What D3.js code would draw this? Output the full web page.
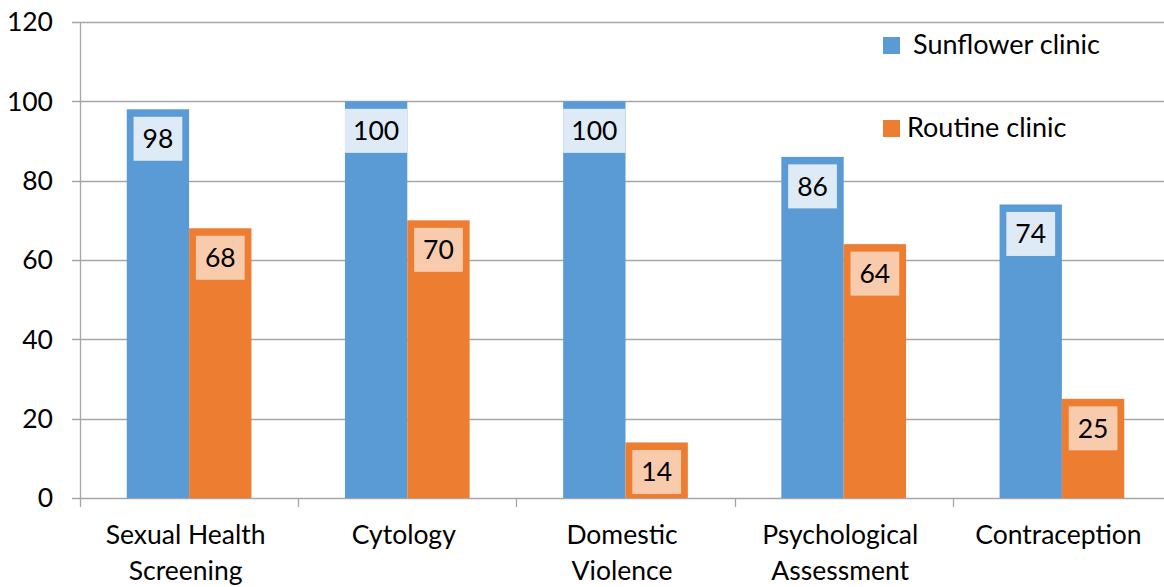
<!DOCTYPE html>
<meta charset="utf-8">
<script src="https://d3js.org/d3.v7.min.js"></script>
<style>
  body { margin: 0; background: #fff; }
  text { font-family: Lato, "Open Sans", sans-serif; fill: #000; }
</style>
<div id="chart"></div>
<script>

// data
var categories = [["Sexual Health", "Screening"], ["Cytology"], ["Domestic", "Violence"], ["Psychological", "Assessment"], ["Contraception"]];
var sunflower = [98, 100, 100, 86, 74];
var routine = [68, 70, 14, 64, 25];
var seriesNames = ["Sunflower clinic", "Routine clinic"];
var yTicks = [0, 20, 40, 60, 80, 100, 120];

var width = 1164, height = 587;
var margin = {top: 22, right: -7, bottom: 89, left: 80};
var innerW = width - margin.left - margin.right,
    innerH = height - margin.top - margin.bottom;

var colors = ["#5b9bd5", "#ed7d31"];
var labelFill = ["#deebf7", "#f8cbad"];
var fontSize = "26.5px";

var svg = d3.select("#chart")
  .append("svg")
    .attr("width", width)
    .attr("height", height)
  .append("g")
    .attr("transform", "translate(" + margin.left + "," + margin.top + ")");

var x = d3.scaleBand()
  .domain(d3.range(categories.length))
  .range([0, innerW]);

var x1 = d3.scaleBand()
  .domain([0, 1])
  .range([0, x.bandwidth()])
  .paddingOuter(0.75)   // ~47px each side, like excel gap width
  .paddingInner(0);

var y = d3.scaleLinear()
  .domain([0, 120])
  .range([innerH, 0]);

// gridlines
svg.append("g")
  .selectAll("line")
  .data(yTicks)
  .enter().append("line")
    .attr("x1", -8)
    .attr("x2", innerW)
    .attr("y1", function(d) { return Math.round(y(d)) + 0.5; })
    .attr("y2", function(d) { return Math.round(y(d)) + 0.5; })
    .attr("stroke", "#a6a6a6")
    .attr("stroke-width", 1.3);

// y axis labels
svg.append("g")
  .selectAll("text")
  .data(yTicks)
  .enter().append("text")
    .attr("x", -27)
    .attr("y", function(d) { return y(d); })
    .attr("dy", "0.35em")
    .attr("text-anchor", "end")
    .style("font-size", fontSize)
    .text(function(d) { return d; });

// y axis line
svg.append("line")
  .attr("x1", 0.5).attr("x2", 0.5)
  .attr("y1", 0).attr("y2", innerH)
  .attr("stroke", "#a6a6a6")
  .attr("stroke-width", 1.3);

// category ticks
svg.append("g")
  .selectAll("line")
  .data(d3.range(categories.length + 1))
  .enter().append("line")
    .attr("x1", function(d) { return Math.round(d * x.step()) + 0.5; })
    .attr("x2", function(d) { return Math.round(d * x.step()) + 0.5; })
    .attr("y1", innerH)
    .attr("y2", innerH + 9)
    .attr("stroke", "#a6a6a6")
    .attr("stroke-width", 1.3);

// category labels (excel sets them a little left of centre)
var cat = svg.append("g")
  .selectAll("text")
  .data(categories)
  .enter().append("text")
    .attr("text-anchor", "middle")
    .attr("transform", function(d, i) { return "translate(" + (x(i) + x.bandwidth() / 2 - 3.5) + "," + (innerH + 46) + ")"; })
    .style("font-size", fontSize);
cat.selectAll("tspan")
  .data(function(d) { return d; })
  .enter().append("tspan")
    .attr("x", 0)
    .attr("y", function(d, i) { return i * 36; })
    .text(function(d) { return d; });

// bars
var series = [sunflower, routine];
var groups = svg.append("g")
  .selectAll("g")
  .data(series)
  .enter().append("g");

groups.selectAll("rect")
  .data(function(d, s) { return d.map(function(v, i) { return {v: v, i: i, s: s}; }); })
  .enter().append("rect")
    .attr("x", function(d) { return x(d.i) + x1(d.s); })
    .attr("y", function(d) { return y(d.v); })
    .attr("width", x1.bandwidth())
    .attr("height", function(d) { return innerH - y(d.v); })
    .attr("fill", function(d) { return colors[d.s]; });

// data labels
var labels = svg.append("g")
  .selectAll("g")
  .data(series)
  .enter().append("g")
  .selectAll("g")
  .data(function(d, s) { return d.map(function(v, i) { return {v: v, i: i, s: s}; }); })
  .enter().append("g")
    .attr("transform", function(d) { return "translate(" + (x(d.i) + x1(d.s) + x1.bandwidth() / 2) + "," + (y(d.v) + 7.5) + ")"; });

labels.append("text")
  .attr("y", 22)
  .attr("dy", "0.35em")
  .attr("text-anchor", "middle")
  .style("font-size", fontSize)
  .text(function(d) { return d.v; })
  .each(function(d) { d.w = this.getComputedTextLength(); });

labels.insert("rect", "text")
  .attr("x", function(d) { return -Math.min(d.w + 18, x1.bandwidth()) / 2; })
  .attr("y", 0)
  .attr("width", function(d) { return Math.min(d.w + 18, x1.bandwidth()); })
  .attr("height", 44)
  .attr("fill", function(d) { return labelFill[d.s]; });

// legend
var legend = svg.append("g")
  .selectAll("g")
  .data(seriesNames)
  .enter().append("g")
    .attr("transform", function(d, i) { return "translate(" + (883 - margin.left) + "," + (37 - margin.top + i * 83) + ")"; });

legend.append("rect")
  .attr("width", 17)
  .attr("height", 17)
  .attr("fill", function(d, i) { return colors[i]; });

legend.append("text")
  .attr("x", function(d, i) { return i === 0 ? 30 : 24; })
  .attr("y", 17)
  .style("font-size", "27px")
  .text(function(d) { return d; });

</script>
